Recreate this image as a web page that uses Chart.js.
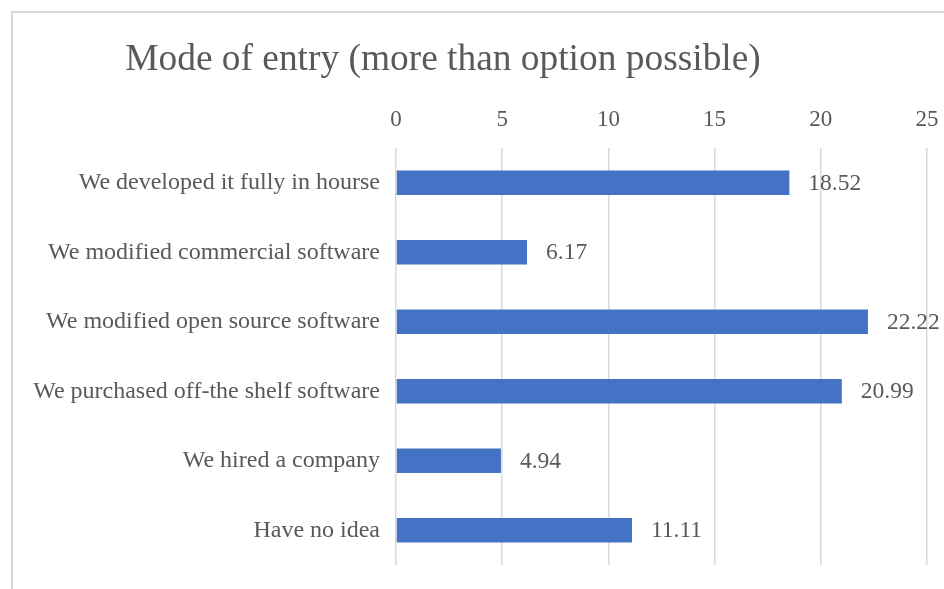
<!DOCTYPE html>
<html>
<head>
<meta charset="utf-8">
<script src="https://cdn.jsdelivr.net/npm/chart.js@4.4.0/dist/chart.umd.min.js"></script>
<style>
  html, body { margin: 0; padding: 0; background: #fff; overflow: hidden; }
  #frame {
    position: absolute; left: 11px; top: 11px; width: 1000px; height: 1000px;
    border-left: 2px solid #d9d9d9; border-top: 2px solid #d9d9d9;
  }
  #wrap { position: absolute; left: 0; top: 0; width: 944px; height: 589px; }
</style>
</head>
<body>
<div id="frame"></div>
<div id="wrap"><canvas id="entryChart"></canvas></div>
<script>
// Survey answers and their shares (%)
const categories = [
  'We developed it fully in hourse',
  'We modified commercial software',
  'We modified open source software',
  'We purchased off-the shelf software',
  'We hired a company',
  'Have no idea'
];
const shares = [18.52, 6.17, 22.22, 20.99, 4.94, 11.11];
const tickValues = [0, 5, 10, 15, 20, 25];

const chartTitle = 'Mode of entry (more than option possible)';
const textColor = '#595959';
const serif = "'Liberation Serif', 'Times New Roman', serif";

// title sits over the left part of the frame, not the plot
const titlePlugin = {
  id: 'frameTitle',
  afterDraw(chart) {
    const c = chart.ctx;
    c.save();
    c.font = '37.4px ' + serif;
    c.fillStyle = textColor;
    c.textAlign = 'center';
    c.textBaseline = 'alphabetic';
    c.fillText(chartTitle, 443, 70);
    c.restore();
  }
};

// value written just past the end of each bar
const valueLabels = {
  id: 'valueLabels',
  afterDatasetsDraw(chart) {
    const c = chart.ctx;
    const meta = chart.getDatasetMeta(0);
    c.save();
    c.font = '23.5px ' + serif;
    c.fillStyle = textColor;
    c.textAlign = 'left';
    c.textBaseline = 'middle';
    meta.data.forEach((bar, i) => {
      c.fillText(shares[i].toFixed(2), bar.x + 19, bar.y + 1);
    });
    c.restore();
  }
};

const ctx = document.getElementById('entryChart').getContext('2d');

new Chart(ctx, {
  type: 'bar',
  data: {
    labels: categories,
    datasets: [{
      data: shares,
      backgroundColor: '#4472C4',
      borderWidth: 0,
      categoryPercentage: 1,
      barPercentage: 0.35
    }]
  },
  options: {
    indexAxis: 'y',
    responsive: true,
    maintainAspectRatio: false,
    animation: false,
    layout: { padding: { top: 90, right: 17, bottom: 24, left: 0 } },
    plugins: {
      legend: { display: false },
      tooltip: { enabled: false },
      title: { display: false }
    },
    scales: {
      x: {
        position: 'top',
        min: 0,
        max: 25,
        afterBuildTicks(scale) {
          scale.ticks = tickValues.map(v => ({ value: v }));
        },
        afterFit(scale) {
          scale.height = 58;
          // let the last tick label hang into the right margin
          scale.paddingLeft = 0;
          scale.paddingRight = 0;
        },
        grid: { color: '#d9d9d9', lineWidth: 1.5, drawTicks: false },
        border: { display: false },
        ticks: {
          padding: 14,
          color: textColor,
          font: { family: serif, size: 23 }
        }
      },
      y: {
        afterFit(scale) { scale.width = 396; },
        grid: { display: false },
        border: { display: false },
        ticks: {
          padding: 8,
          color: textColor,
          font: { family: serif, size: 24 }
        }
      }
    }
  },
  plugins: [titlePlugin, valueLabels]
});
</script>
</body>
</html>
